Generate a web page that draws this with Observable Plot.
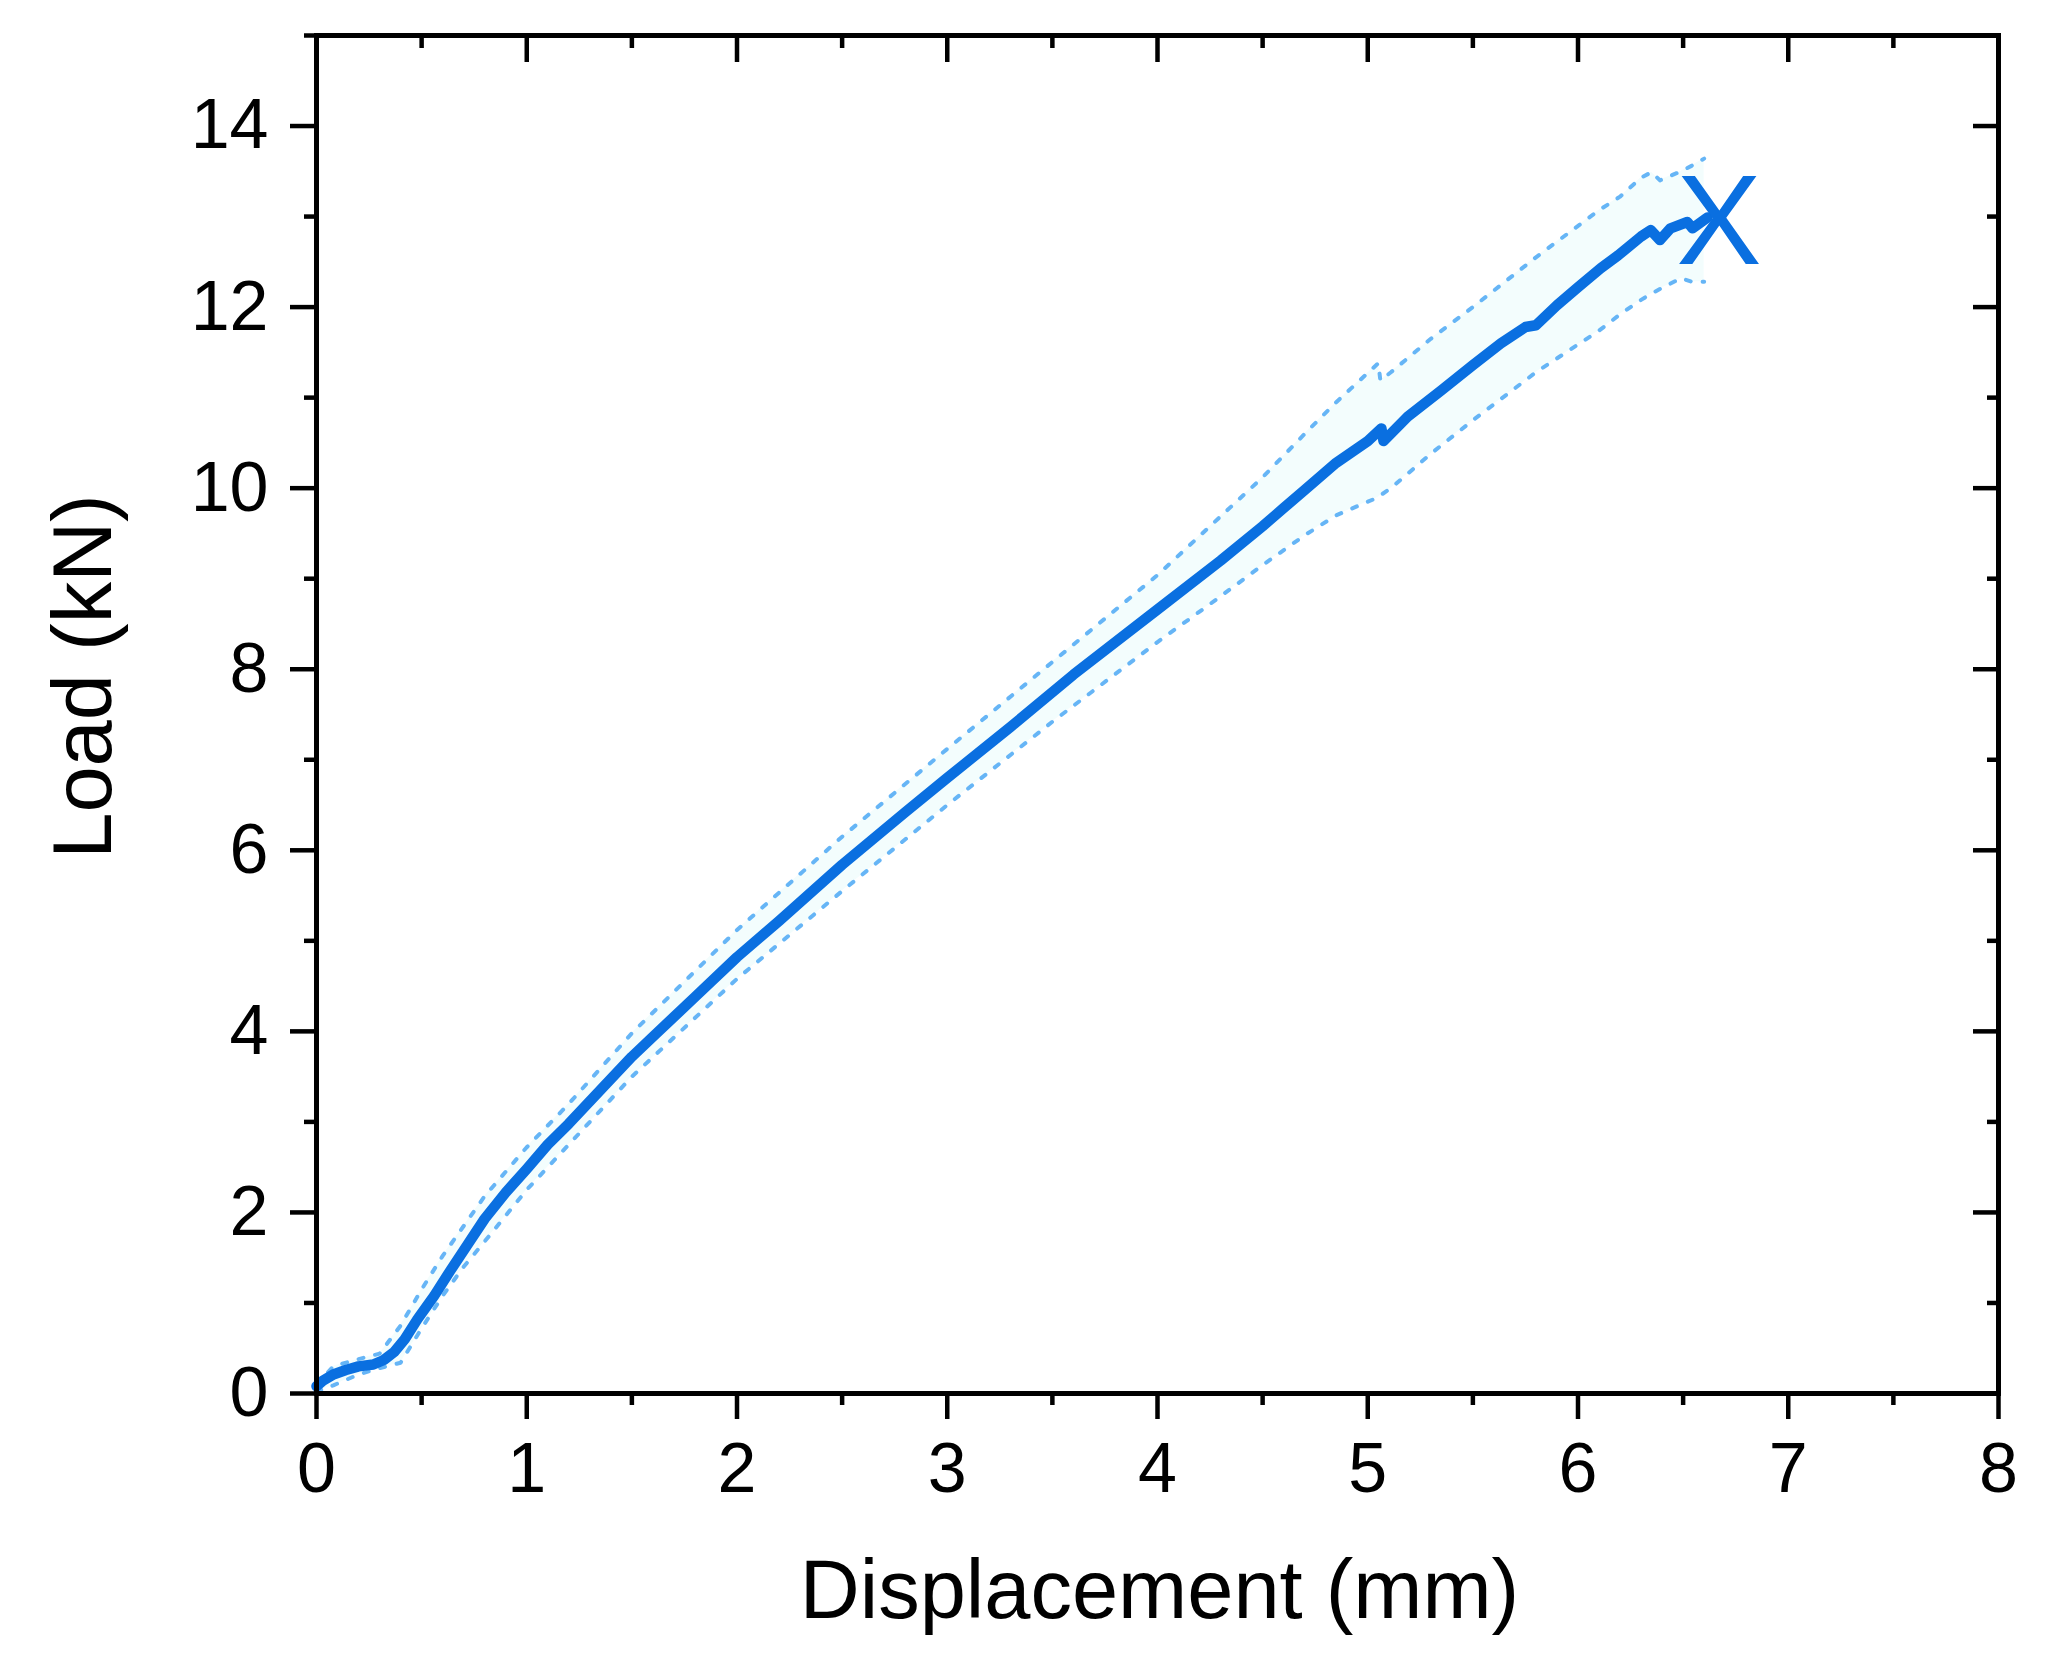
<!DOCTYPE html>
<html>
<head>
<meta charset="utf-8">
<script src="https://cdn.jsdelivr.net/npm/d3@7"></script>
<script src="https://cdn.jsdelivr.net/npm/@observablehq/plot@0.6"></script>
<style>
  html, body { margin: 0; padding: 0; background: #ffffff; }
  #chart svg { display: block; }
</style>
</head>
<body>
<div id="chart"></div>
<script>
// Mean load–displacement curve
const displacement = [0, 0.03, 0.08, 0.14, 0.20, 0.27, 0.32, 0.37, 0.42, 0.48, 0.56, 0.64, 0.72, 0.80, 0.90, 1.00, 1.10, 1.20, 1.35, 1.50, 1.60, 1.80, 2.00, 2.20, 2.50, 2.80, 3.00, 3.30, 3.60, 4.00, 4.30, 4.50, 4.60, 4.70, 4.85, 5.00, 5.065, 5.075, 5.19, 5.35, 5.50, 5.633, 5.75, 5.80, 5.90, 6.00, 6.108, 6.19, 6.30, 6.346, 6.39, 6.44, 6.52, 6.545, 6.616];
const load = [0.08, 0.14, 0.21, 0.26, 0.30, 0.32, 0.37, 0.46, 0.60, 0.82, 1.08, 1.37, 1.65, 1.93, 2.22, 2.48, 2.75, 2.98, 3.35, 3.72, 3.94, 4.38, 4.82, 5.22, 5.84, 6.42, 6.80, 7.36, 7.94, 8.66, 9.20, 9.58, 9.78, 9.98, 10.28, 10.52, 10.66, 10.52, 10.79, 11.08, 11.36, 11.60, 11.78, 11.80, 12.02, 12.22, 12.43, 12.57, 12.78, 12.85, 12.74, 12.87, 12.94, 12.87, 12.99];

// Scatter band (upper / lower bounds)
const bandDisplacement = [0, 0.08, 0.2, 0.3, 0.4, 0.5, 0.6, 0.7, 0.8, 1.0, 1.2, 1.5, 2.0, 2.5, 3.0, 3.5, 4.0, 4.25, 4.5, 4.7, 4.85, 5.05, 5.06, 5.11, 5.3, 5.5, 5.8, 6.1, 6.2, 6.3, 6.35, 6.39, 6.49, 6.54, 6.6];
const bandUpper = [0.10, 0.30, 0.38, 0.44, 0.75, 1.15, 1.52, 1.85, 2.18, 2.72, 3.20, 3.98, 5.12, 6.15, 7.12, 8.08, 9.04, 9.58, 10.12, 10.60, 10.95, 11.38, 11.19, 11.28, 11.65, 12.0, 12.55, 13.07, 13.22, 13.43, 13.49, 13.40, 13.50, 13.56, 13.64];
const bandLower = [0.02, 0.09, 0.21, 0.28, 0.34, 0.72, 1.08, 1.40, 1.68, 2.25, 2.75, 3.50, 4.58, 5.55, 6.50, 7.42, 8.30, 8.72, 9.15, 9.48, 9.70, 9.90, 9.92, 10.0, 10.38, 10.75, 11.28, 11.74, 11.92, 12.08, 12.15, 12.20, 12.32, 12.28, 12.28];

// Failure marker
const failureDisplacement = [6.67];
const failureLoad = [12.93];
const failureLabel = ["X"];

// Ticks and labels
const xMajorTicks = [0, 1, 2, 3, 4, 5, 6, 7, 8];
const xMinorTicks = [0.5, 1.5, 2.5, 3.5, 4.5, 5.5, 6.5, 7.5];
const yMajorTicks = [0, 2, 4, 6, 8, 10, 12, 14];
const yMinorTicks = [1, 3, 5, 7, 9, 11, 13, 15];
const xTitle = "Displacement (mm)";
const yTitle = "Load (kN)";

const curve = displacement.map((d, i) => ({x: d, y: load[i]}));
const band = bandDisplacement.map((d, i) => ({x: d, lo: bandLower[i], hi: bandUpper[i]}));
const failure = failureDisplacement.map((d, i) => ({x: d, y: failureLoad[i], t: failureLabel[i]}));

const font = "'Liberation Sans', Arial, Helvetica, sans-serif";
const mainBlue = "#0a6fe0";
const dotBlue = "#66b5f6";
const tickOnly = {fill: "none", stroke: "black", strokeWidth: 4.5, label: null};

const chart = Plot.plot({
  width: 2049,
  height: 1677,
  marginLeft: 316,
  marginRight: 51,
  marginTop: 35,
  marginBottom: 284,
  style: {fontFamily: font, fontSize: "70px", color: "black", background: "white"},
  x: {domain: [0, 8], label: null},
  y: {domain: [0, 15], label: null},
  marks: [
    Plot.areaY(band, {x: "x", y1: "lo", y2: "hi", fill: "#f3fdfd"}),
    Plot.line(band, {x: "x", y: "hi", stroke: dotBlue, strokeWidth: 4, strokeDasharray: "5,12", strokeLinecap: "round"}),
    Plot.line(band, {x: "x", y: "lo", stroke: dotBlue, strokeWidth: 4, strokeDasharray: "5,12", strokeLinecap: "round"}),
    Plot.line(curve, {x: "x", y: "y", stroke: mainBlue, strokeWidth: 10.5, strokeLinejoin: "round", strokeLinecap: "round"}),
    Plot.text(failure, {x: "x", y: "y", text: "t", fill: mainBlue, fontSize: 128, fontFamily: font}),
    // bottom axis
    Plot.axisX({anchor: "bottom", ticks: xMajorTicks, tickSize: 26, tickPadding: 23, stroke: "black", fill: "black", strokeWidth: 4.5, tickFormat: d => String(d), label: null}),
    Plot.axisX({anchor: "bottom", ticks: xMinorTicks, tickSize: 12, ...tickOnly}),
    // top axis (inward ticks)
    Plot.axisX({anchor: "top", ticks: xMajorTicks, tickSize: 26, dy: 26, ...tickOnly}),
    Plot.axisX({anchor: "top", ticks: xMinorTicks, tickSize: 12, dy: 12, ...tickOnly}),
    // left axis
    Plot.axisY({anchor: "left", ticks: yMajorTicks, tickSize: 26, tickPadding: 22, stroke: "black", fill: "black", strokeWidth: 4.5, tickFormat: d => String(d), label: null}),
    Plot.axisY({anchor: "left", ticks: yMinorTicks, tickSize: 12, ...tickOnly}),
    // right axis (inward ticks)
    Plot.axisY({anchor: "right", ticks: yMajorTicks, tickSize: 26, dx: -26, ...tickOnly}),
    Plot.axisY({anchor: "right", ticks: yMinorTicks, tickSize: 12, dx: -12, ...tickOnly}),
    Plot.frame({stroke: "black", strokeWidth: 5}),
    // axis titles
    Plot.text([xTitle], {frameAnchor: "bottom", textAnchor: "middle", lineAnchor: "middle", dx: 2, dy: 198, fontSize: 83, fill: "black", fontFamily: font}),
    Plot.text([yTitle], {frameAnchor: "left", textAnchor: "middle", lineAnchor: "middle", rotate: -90, dx: -232, dy: -38, fontSize: 83, fill: "black", fontFamily: font})
  ]
});

document.getElementById("chart").appendChild(chart);
</script>
</body>
</html>
